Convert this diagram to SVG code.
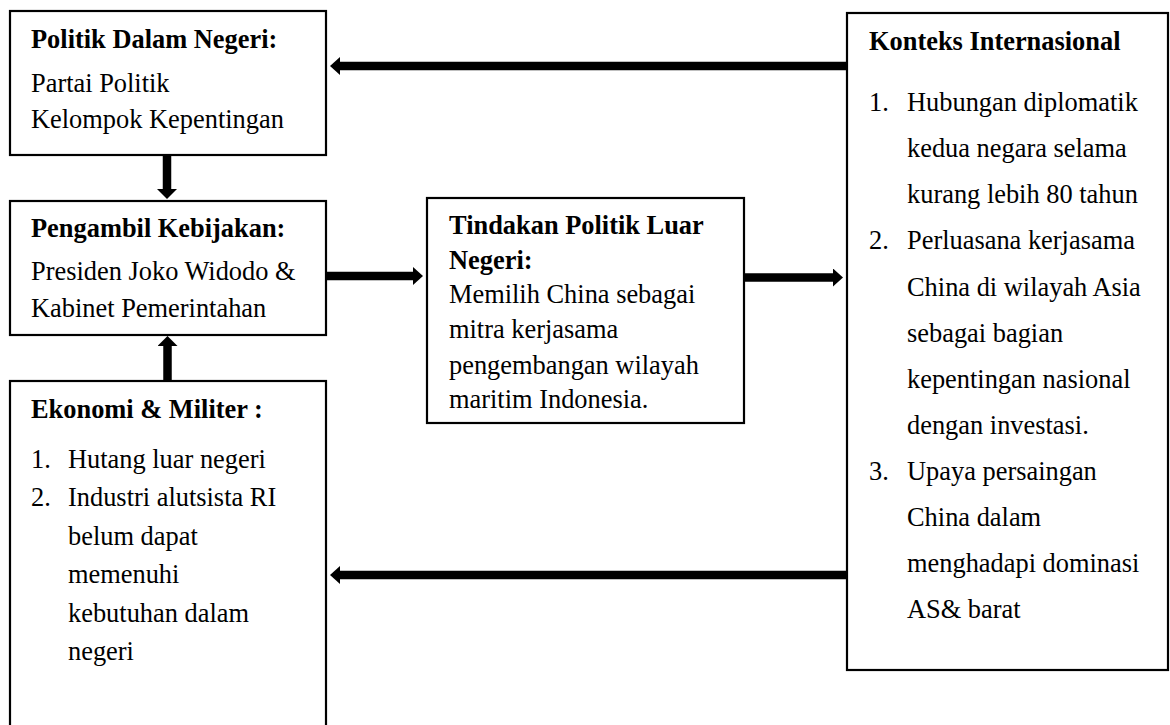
<svg xmlns="http://www.w3.org/2000/svg" width="1170" height="725" viewBox="0 0 1170 725">
<defs>
<style>
.box{fill:#fff;stroke:#000;stroke-width:2.2}
text{font-family:"Liberation Serif","Times New Roman",serif;font-size:26.4px;fill:#000}
.b{font-weight:bold}
.conn{stroke:#000;stroke-width:8.5;fill:none}
</style>
<marker id="ah" viewBox="0 0 10 18" markerUnits="userSpaceOnUse" markerWidth="10" markerHeight="18" refX="0" refY="9" orient="auto">
<path d="M0,0 L10,9 L0,18 Z" fill="#000"/>
</marker>
<marker id="ahv" viewBox="0 0 10 20" markerUnits="userSpaceOnUse" markerWidth="10" markerHeight="20" refX="0" refY="10" orient="auto">
<path d="M0,0 L10,10 L0,20 Z" fill="#000"/>
</marker>
</defs>
<rect width="1170" height="725" fill="#fff"/>
<g id="connectors">
<line class="conn" x1="847" y1="66" x2="340" y2="66" marker-end="url(#ah)"/>
<line class="conn" x1="167" y1="155" x2="167" y2="189" marker-end="url(#ahv)"/>
<line class="conn" x1="167.5" y1="381" x2="167.5" y2="346" marker-end="url(#ahv)"/>
<line class="conn" x1="326" y1="276" x2="413" y2="276" marker-end="url(#ah)"/>
<line class="conn" x1="744" y1="277.5" x2="833" y2="277.5" marker-end="url(#ah)"/>
<line class="conn" x1="847" y1="575" x2="340" y2="575" marker-end="url(#ah)"/>
</g>
<g id="politik-dalam-negeri">
<rect class="box" x="10" y="11" width="316" height="144"/>
<text class="b" x="31" y="48">Politik Dalam Negeri:</text>
<text x="31" y="92">Partai Politik</text>
<text x="31" y="128">Kelompok Kepentingan</text>
</g>
<g id="pengambil-kebijakan">
<rect class="box" x="10" y="201" width="316" height="134"/>
<text class="b" x="31" y="237">Pengambil Kebijakan:</text>
<text x="31" y="280">Presiden Joko Widodo &amp;</text>
<text x="31" y="317">Kabinet Pemerintahan</text>
</g>
<g id="ekonomi-militer">
<rect class="box" x="10" y="381" width="316" height="360"/>
<text class="b" x="31" y="418">Ekonomi &amp; Militer :</text>
<text x="31" y="468">1.</text>
<text x="68" y="468">Hutang luar negeri</text>
<text x="31" y="506">2.</text>
<text x="68" y="506">Industri alutsista RI</text>
<text x="68" y="545">belum dapat</text>
<text x="68" y="583">memenuhi</text>
<text x="68" y="622">kebutuhan dalam</text>
<text x="68" y="660">negeri</text>
</g>
<g id="tindakan-politik-luar-negeri">
<rect class="box" x="427" y="198" width="317" height="225"/>
<text class="b" x="449" y="234">Tindakan Politik Luar</text>
<text class="b" x="449" y="269">Negeri:</text>
<text x="449" y="303">Memilih China sebagai</text>
<text x="449" y="338">mitra kerjasama</text>
<text x="449" y="374">pengembangan wilayah</text>
<text x="449" y="408">maritim Indonesia.</text>
</g>
<g id="konteks-internasional">
<rect class="box" x="847" y="13" width="321" height="657"/>
<text class="b" x="869" y="50">Konteks Internasional</text>
<text x="869" y="111">1.</text>
<text x="907" y="111">Hubungan diplomatik</text>
<text x="907" y="157">kedua negara selama</text>
<text x="907" y="203">kurang lebih 80 tahun</text>
<text x="869" y="249">2.</text>
<text x="907" y="249">Perluasana kerjasama</text>
<text x="907" y="296">China di wilayah Asia</text>
<text x="907" y="342">sebagai bagian</text>
<text x="907" y="388">kepentingan nasional</text>
<text x="907" y="434">dengan investasi.</text>
<text x="869" y="480">3.</text>
<text x="907" y="480">Upaya persaingan</text>
<text x="907" y="526">China dalam</text>
<text x="907" y="572">menghadapi dominasi</text>
<text x="907" y="618">AS&amp; barat</text>
</g>
</svg>
